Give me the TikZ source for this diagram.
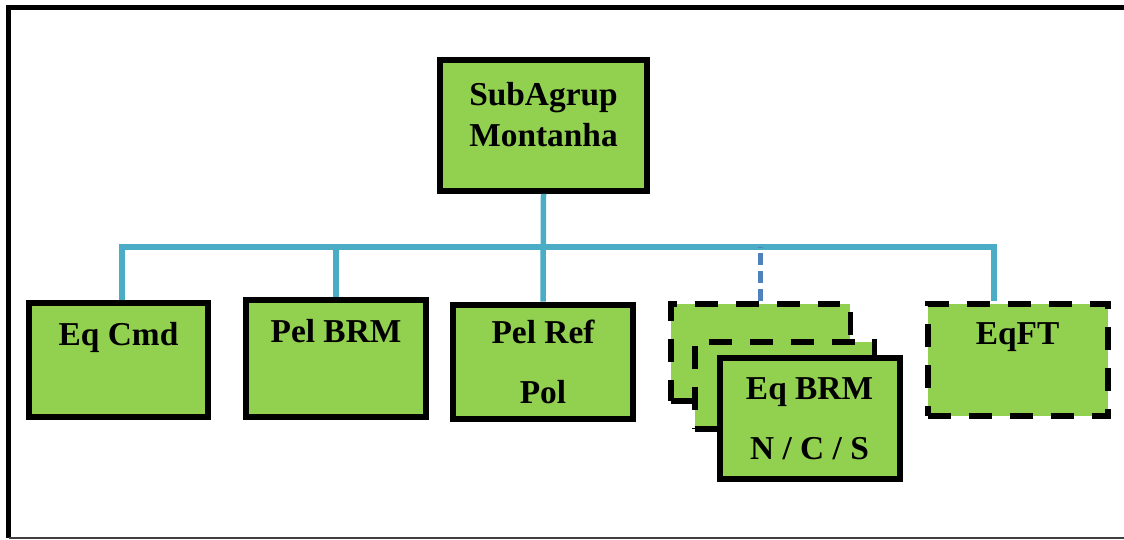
\documentclass[tikz,border=0pt]{standalone}
\usepackage{fontspec}
\setmainfont{Liberation Serif}
\usepackage{tikz}
\usetikzlibrary{positioning}
\definecolor{unitgreen}{HTML}{92D050}
\definecolor{buscolor}{HTML}{4BACC6}
\definecolor{plancolor}{HTML}{4F81BD}
\newcommand\unitfont{\bfseries\fontsize{19}{34}\selectfont}
\tikzset
{
    unitbox/.style  = {rectangle, draw=black, fill=unitgreen, line width=0.12cm, minimum width=3.6cm, minimum height=2.3cm, inner sep=0pt, align=center, font=\unitfont},
    planbox/.style  = {unitbox, dash pattern=on 0.46cm off 0.36cm},
    busline/.style  = {draw=buscolor, line width=0.11cm},
    planline/.style = {draw=plancolor, line width=0.1cm, dash pattern=on 0.24cm off 0.12cm}
}

\begin{document}
\begin{tikzpicture}[x=0.02cm, y=-0.02cm]
    \useasboundingbox (0,0) rectangle (1124,540);
    % frame
    \draw[line width=0.1cm] (1130,7.5) -- (8.5,7.5) -- (8.5,538);
    \draw[line width=0.05cm, black!75] (8.5,538) -- (1130,538);

    \node [unitbox, minimum width=4.14cm, minimum height=2.62cm, text depth=0.45cm, font=\bfseries\fontsize{19}{23}\selectfont] (subagrup) at (543.5,125.5) {SubAgrup\\Montanha};
    \node [unitbox] (eqcmd)  at (118.5,360)   {Eq Cmd\\[-0.15cm]\mbox{}};
    \node [unitbox, minimum height=2.34cm] (pelbrm) at (336,358.5) {Pel BRM\\[-0.1cm]\mbox{}};
    \node [unitbox] (pelref) at (543,362)     {Pel Ref\\Pol};
    \node [planbox, minimum height=1.94cm] (eqback) at (760.5,352.5) {};
    \node [planbox, minimum height=1.74cm] (eqmid)  at (784.5,385.5) {};
    \node [unitbox, minimum height=2.42cm] (eqbrm)  at (809.5,418.5) {Eq BRM\\N\hspace{0.25em}/\hspace{0.25em}C\hspace{0.25em}/\hspace{0.25em}S};
    \node [planbox, minimum height=2.24cm] (eqft)   at (1017.5,360) {EqFT\\[-0.15cm]\mbox{}};

    \coordinate (bus) at (543,247);
    \draw[busline] (subagrup.south) -- (pelref.north);
    \draw[busline] ([xshift=0.07cm]eqcmd.north) |- (bus) -| ([xshift=-0.47cm]eqft.north);
    \draw[busline] (pelbrm.north) -- (pelbrm.north |- bus);
    \draw[planline] (eqback.north) -- (eqback.north |- bus);
\end{tikzpicture}
\end{document}
